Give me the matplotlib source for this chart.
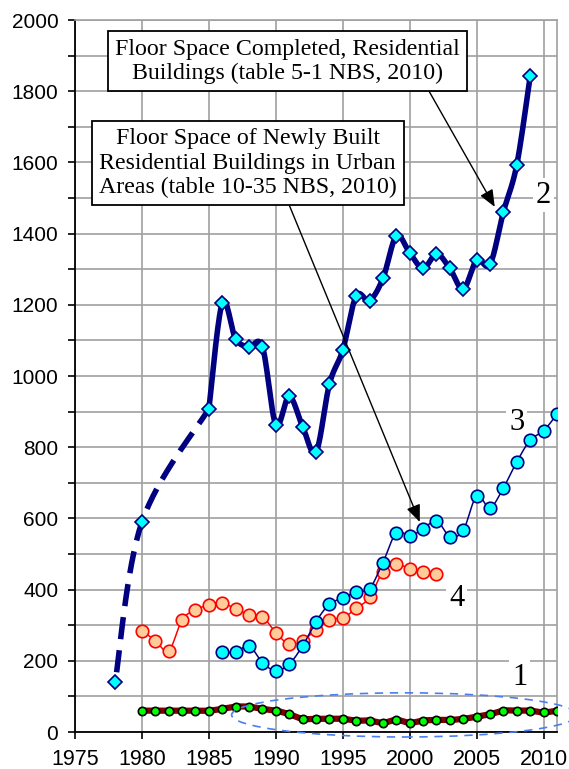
import numpy as np
import matplotlib
matplotlib.use("Agg")
import matplotlib.pyplot as plt
from matplotlib.patches import Ellipse

# Series 1: dark red thick line, green dots
years1 = list(range(1980, 2012))
vals1 = [60, 60, 60, 60, 60, 60, 65, 71, 71, 65, 60, 50, 37, 37, 37, 37,
         32, 32, 26, 34, 26, 32, 34, 34, 37, 43, 50, 60, 60, 60, 55, 60]

# Series 2: floor space completed (table 5-1)
years2_early = [1978, 1980, 1985]
vals2_early = [140, 590, 908]
years2 = list(range(1985, 2010))
vals2 = [908, 1205, 1104, 1082, 1082, 863, 943, 858, 786, 977, 1073, 1225,
         1212, 1274, 1393, 1346, 1302, 1343, 1302, 1244, 1326, 1314, 1461,
         1594, 1843]

# Series 3: newly built residential in urban areas (table 10-35)
years3 = list(range(1986, 2012))
vals3 = [224, 224, 242, 195, 172, 191, 242, 310, 359, 376, 394, 403, 476,
         560, 551, 570, 594, 549, 567, 663, 630, 686, 759, 820, 846, 893]

# Series 4: red line, peach circles
years4 = list(range(1980, 2003))
vals4 = [285, 257, 228, 315, 343, 357, 363, 345, 330, 324, 279, 246, 257,
         287, 316, 321, 347, 378, 450, 471, 459, 450, 444]

box1_text = "Floor Space Completed, Residential\nBuildings (table 5-1 NBS, 2010)"
box2_text = "Floor Space of Newly Built\nResidential Buildings in Urban\nAreas (table 10-35 NBS, 2010)"


def smooth(x, y, n=16):
    # Excel-like smoothed line (Catmull-Rom as cubic Bezier)
    p = np.column_stack([x, y]).astype(float)
    out = [p[0]]
    t = np.linspace(0, 1, n + 1)[1:][:, None]
    for i in range(len(p) - 1):
        p0 = p[i - 1] if i > 0 else p[i]
        p1, p2 = p[i], p[i + 1]
        p3 = p[i + 2] if i + 2 < len(p) else p[i + 1]
        c1 = p1 + (p2 - p0) / 6.0
        c2 = p2 - (p3 - p1) / 6.0
        seg = ((1 - t) ** 3) * p1 + 3 * ((1 - t) ** 2) * t * c1 + 3 * (1 - t) * t ** 2 * c2 + t ** 3 * p2
        out.extend(seg)
    out = np.array(out)
    return out[:, 0], out[:, 1]


navy = "#000080"
fig = plt.figure(figsize=(5.69, 7.69), dpi=100)
ax = fig.add_axes([75 / 569, 37 / 769, 482 / 569, 712 / 769])

ax.set_xlim(1975, 2011)
ax.set_ylim(0, 2000)
ax.set_xticks(range(1975, 2011, 5))
ax.set_yticks(range(0, 2001, 200))
ax.set_yticks(range(100, 2000, 200), minor=True)
ax.grid(True, which="both", color="#a0a0a0", lw=1.2, zorder=0)
ax.set_axisbelow(True)
for s in ["top", "right"]:
    ax.spines[s].set_color("#a0a0a0")
    ax.spines[s].set_linewidth(1.2)
for s in ["left", "bottom"]:
    ax.spines[s].set_linewidth(1.3)
ax.tick_params(which="both", direction="out", length=5, width=1.2, pad=7)
ax.tick_params(axis="x", labelsize=15.5)
ax.tick_params(axis="y", labelsize=15)
for lab in ax.get_xticklabels() + ax.get_yticklabels():
    lab.set_family("Liberation Sans")

# series 1
sx, sy = smooth(years1, vals1)
ax.plot(sx, sy, color="#800000", lw=4.5, zorder=3, solid_capstyle="round")
ax.plot(years1, vals1, "o", ms=6, mfc="#00ff00", mec="black", mew=1.2, zorder=4)

# series 4
sx, sy = smooth(years4, vals4)
ax.plot(sx, sy, color="#ff0000", lw=1.1, zorder=3)
ax.plot(years4, vals4, "o", ms=9, mfc="#ffcc99", mec="#ff0000", mew=1.2, zorder=4)

# series 3
sx, sy = smooth(years3, vals3)
ax.plot(sx, sy, color=navy, lw=1.1, zorder=5)
ax.plot(years3, vals3, "o", ms=9, mfc="#00ffff", mec=navy, mew=1.2, zorder=6)

# series 2
sx, sy = smooth(years2_early, vals2_early)
ax.plot(sx, sy, color=navy, lw=4, linestyle=(4.2, (4, 2)), zorder=7)
sx, sy = smooth(years2, vals2)
ax.plot(sx, sy, color=navy, lw=4, zorder=7, solid_capstyle="round")
ax.plot(years2_early[:2] + years2, vals2_early[:2] + vals2, "D", ms=7,
        mfc="#00ffff", mec=navy, mew=1.2, zorder=8)

# dashed ellipse around series 1
ell = Ellipse((1999.6, 48), width=25.8, height=124, fill=False,
              edgecolor="#4a7ff0", lw=1.2, linestyle=(0, (5, 4)),
              clip_on=False, zorder=9)
ax.add_patch(ell)

# curve labels (white box hides the grid, drawn under the series)
lab_kw = dict(fontsize=22, family="Liberation Serif", ha="center", va="center",
              zorder=2, bbox=dict(facecolor="white", edgecolor="none", pad=2))
ax.text(2010.0, 1508, "2", **lab_kw)
ax.text(2008.0, 868, "3", **lab_kw)
ax.text(2003.5, 376, "4", **lab_kw)
ax.text(2008.2, 154, "1", **lab_kw)

# annotation boxes
box_kw = dict(boxstyle="square,pad=0.3", facecolor="white", edgecolor="black", lw=1.3)
ax.annotate(box1_text, xy=(2006.35, 1475), xytext=(0.440, 0.942),
            textcoords="axes fraction", ha="center", va="center",
            fontsize=17.2, family="Liberation Serif", bbox=box_kw, zorder=11,
            arrowprops=dict(arrowstyle="-|>,head_length=0.6,head_width=0.25",
                            color="black", lw=1.0, shrinkA=0, shrinkB=0,
                            relpos=(0.9, 0)))
ax.annotate(box2_text, xy=(2000.75, 590), xytext=(0.358, 0.799),
            textcoords="axes fraction", ha="center", va="center",
            fontsize=17.2, family="Liberation Serif", bbox=box_kw, zorder=11,
            arrowprops=dict(arrowstyle="-|>,head_length=0.6,head_width=0.25",
                            color="black", lw=1.0, shrinkA=0, shrinkB=0,
                            relpos=(0.63, 0)))

fig.savefig("out.png", dpi=100)
